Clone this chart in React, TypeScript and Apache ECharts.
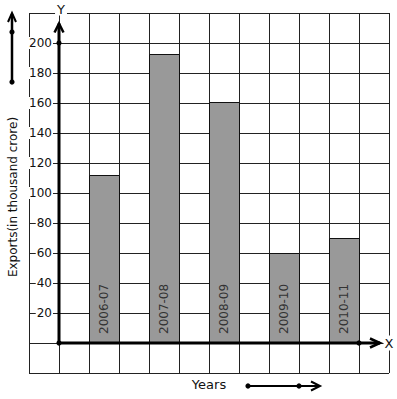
import React, { useEffect, useRef } from "react";
import * as echarts from "echarts";

const categories = ["2006-07", "2007-08", "2008-09", "2009-10", "2010-11"];
const exportsValues = [112, 193, 161, 60, 70];
const yTickLabels = [20, 40, 60, 80, 100, 120, 140, 160, 180, 200];
const xMin = -1;
const xMax = 11;
const yMin = -20;
const yMax = 220;
const xArrowTip = 10.7;
const yArrowTip = 213;
const axisDots: number[][] = [[0, 0], [0, 200], [10, 0]];

const FONT = '"DejaVu Sans", sans-serif';

function chevron(tip: number[], dir: "up" | "right", back: number, half: number) {
  if (dir === "up") {
    return [[tip[0] - half, tip[1] + back], tip, [tip[0] + half, tip[1] + back]];
  }
  return [[tip[0] - back, tip[1] - half], tip, [tip[0] - back, tip[1] + half]];
}

export default function App() {
  const ref = useRef<HTMLDivElement>(null);
  useEffect(() => {
    if (!ref.current) return;
    const chart = echarts.init(ref.current, undefined, { renderer: "svg" });
    const barData = categories.map((c, i) => [2 * i + 1, 2 * i + 2, exportsValues[i]]);
    const option: any = {
      animation: false,
      backgroundColor: "#fff",
      grid: { left: 29, top: 13, width: 360, height: 360, show: false },
      xAxis: {
        type: "value",
        min: xMin,
        max: xMax,
        interval: 1,
        axisLine: { show: false },
        axisTick: { show: false },
        axisLabel: { show: false },
        splitLine: { show: true, lineStyle: { color: "#222", width: 1 } },
      },
      yAxis: {
        type: "value",
        min: yMin,
        max: yMax,
        interval: 20,
        axisLine: { show: false },
        axisTick: { show: false },
        splitLine: { show: true, lineStyle: { color: "#222", width: 1 } },
        axisLabel: {
          inside: true,
          margin: 24,
          align: "right",
          color: "#111",
          fontFamily: FONT,
          fontSize: 12,
          backgroundColor: "#fff",
          padding: [0, 1],
          formatter: (v: number) => (yTickLabels.indexOf(v) >= 0 ? String(v) : ""),
        },
      },
      series: [
        {
          type: "custom",
          name: "Exports",
          z: 3,
          data: barData,
          renderItem: (params: any, api: any) => {
            const x0 = api.value(0);
            const x1 = api.value(1);
            const v = api.value(2);
            const tl = api.coord([x0, v]);
            const br = api.coord([x1, 0]);
            const left = Math.round(tl[0]) + 0.5;
            const top = Math.round(tl[1]) + 0.5;
            const right = Math.round(br[0]) + 0.5;
            const bottom = Math.round(br[1]) + 0.5;
            return {
              type: "group",
              children: [
                {
                  type: "rect",
                  shape: { x: left, y: top, width: right - left, height: bottom - top },
                  style: { fill: "#999999", stroke: "#111", lineWidth: 1 },
                },
                {
                  type: "text",
                  x: (tl[0] + br[0]) / 2,
                  y: br[1] - 9,
                  rotation: Math.PI / 2,
                  style: {
                    text: categories[params.dataIndex],
                    x: 0,
                    y: 0,
                    align: "left",
                    verticalAlign: "middle",
                    fill: "#333",
                    font: `12px ${FONT}`,
                  },
                },
              ],
            };
          },
        },
        {
          type: "custom",
          name: "axes",
          z: 5,
          data: [[0]],
          renderItem: (_params: any, api: any) => {
            const o = api.coord([0, 0]);
            const xe = api.coord([xArrowTip, 0]);
            const ye = api.coord([0, yArrowTip]);
            const yTop = api.coord([0, yMax]);
            const xRight = api.coord([xMax, 0]);
            const stroke = { stroke: "#000", lineWidth: 3, fill: null };
            const children: any[] = [
              { type: "line", shape: { x1: o[0], y1: o[1], x2: xe[0], y2: xe[1] }, style: stroke },
              { type: "line", shape: { x1: o[0], y1: o[1], x2: ye[0], y2: ye[1] }, style: stroke },
              {
                type: "polyline",
                shape: { points: chevron(ye, "up", 9, 4.5) },
                style: { stroke: "#000", lineWidth: 2.5, fill: null },
              },
              {
                type: "polyline",
                shape: { points: chevron(xe, "right", 10, 4.5) },
                style: { stroke: "#000", lineWidth: 2.5, fill: null },
              },
              {
                type: "text",
                x: yTop[0] + 2,
                y: yTop[1] - 4,
                style: {
                  text: "Y",
                  align: "center",
                  verticalAlign: "middle",
                  fill: "#111",
                  font: `13px ${FONT}`,
                  backgroundColor: "#fff",
                  padding: [0, 2],
                },
              },
              {
                type: "text",
                x: xRight[0],
                y: xRight[1],
                style: {
                  text: "X",
                  align: "center",
                  verticalAlign: "middle",
                  fill: "#111",
                  font: `13px ${FONT}`,
                  backgroundColor: "#fff",
                  padding: [1, 1],
                },
              },
            ];
            axisDots.forEach((d) => {
              const p = api.coord(d);
              children.push({ type: "circle", shape: { cx: p[0], cy: p[1], r: 2.6 }, style: { fill: "#000" } });
            });
            return { type: "group", children };
          },
        },
      ],
      graphic: [
        {
          type: "text",
          x: 13,
          y: 197,
          rotation: Math.PI / 2,
          style: {
            text: "Exports(in thousand crore)",
            align: "center",
            verticalAlign: "middle",
            fill: "#111",
            font: `12px ${FONT}`,
          },
        },
        { type: "line", shape: { x1: 12, y1: 82, x2: 12, y2: 14 }, style: { stroke: "#000", lineWidth: 2.5 } },
        {
          type: "polyline",
          shape: { points: [[8, 22], [12, 13], [16, 22]] },
          style: { stroke: "#000", lineWidth: 2, fill: null },
        },
        { type: "circle", shape: { cx: 12, cy: 32, r: 2.6 }, style: { fill: "#000" } },
        { type: "circle", shape: { cx: 12, cy: 82, r: 2.6 }, style: { fill: "#000" } },
        {
          type: "text",
          x: 209,
          y: 384,
          style: {
            text: "Years",
            align: "center",
            verticalAlign: "middle",
            fill: "#111",
            font: `13px ${FONT}`,
          },
        },
        { type: "line", shape: { x1: 248, y1: 386, x2: 319, y2: 386 }, style: { stroke: "#000", lineWidth: 2 } },
        {
          type: "polyline",
          shape: { points: [[311, 381.5], [320, 386], [311, 390.5]] },
          style: { stroke: "#000", lineWidth: 2, fill: null },
        },
        { type: "circle", shape: { cx: 248, cy: 386, r: 2.6 }, style: { fill: "#000" } },
        { type: "circle", shape: { cx: 299, cy: 386, r: 2.6 }, style: { fill: "#000" } },
      ],
    };
    chart.setOption(option);
    return () => chart.dispose();
  }, []);
  return (
    <div
      ref={ref}
      style={{ position: "absolute", left: 0, top: 0, width: 397, height: 399 }}
    />
  );
}
